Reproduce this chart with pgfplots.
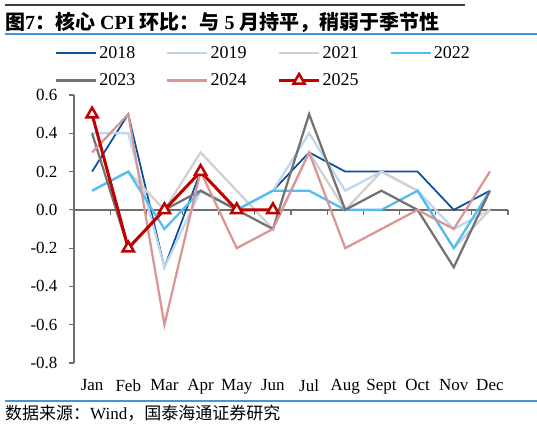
\documentclass[border=0pt]{standalone}
\usepackage{fontspec}
\setmainfont{Liberation Serif}
\newfontfamily\cjk{Noto Sans CJK SC}
\usepackage{pgfplots}
\pgfplotsset{compat=1.18}

\definecolor{c2018}{RGB}{10,80,160}
\definecolor{c2019}{RGB}{189,215,238}
\definecolor{c2021}{RGB}{208,208,208}
\definecolor{c2022}{RGB}{80,190,240}
\definecolor{c2023}{RGB}{118,113,113}
\definecolor{c2024}{RGB}{218,150,148}
\definecolor{c2025}{RGB}{192,0,0}
\definecolor{rule}{RGB}{68,150,214}
\definecolor{toprule}{RGB}{64,64,64}
\definecolor{axisgray}{RGB}{110,110,110}

\begin{document}
\begin{tikzpicture}[x=1bp,y=1bp]
\useasboundingbox (0,0) rectangle (537,428);
% header and footer
\draw[line width=2bp, toprule] (5,423) -- (465,423);
\node[anchor=west, inner sep=0pt, font=\fontsize{20bp}{22bp}\selectfont] at (5,406)
  {{\cjk\bfseries 图}\textbf{7}{\cjk\bfseries ：核心}\ \textbf{CPI}\ {\cjk\bfseries 环比：与}\ \textbf{5}\ {\cjk\bfseries 月持平，稍弱于季节性}};
\draw[line width=1.5bp, rule] (5,394) -- (537,394);
\draw[line width=1.5bp, rule] (5,27) -- (537,27);
\node[anchor=west, inner sep=0pt, font=\fontsize{17bp}{19bp}\selectfont] at (5,15)
  {{\cjk 数据来源：}Wind{\cjk ，国泰海通证券研究}};

\begin{axis}[
  at={(74bp,65bp)}, anchor=south west,
  scale only axis, width=434bp, height=268bp,
  xmin=0.5, xmax=12.5, ymin=-0.8, ymax=0.6,
  axis y line*=left, axis x line*=bottom,
  x axis line style={draw=none},
  y axis line style={line width=1.5bp, axisgray},
  xtick={1,...,12},
  xticklabels={Jan,Feb,Mar,Apr,May,Jun,Jul,Aug,Sept,Oct,Nov,Dec},
  xtick style={draw=none},
  ytick={-0.8,-0.6,...,0.6},
  ytick style={line width=1.2bp, axisgray},
  tick align=outside, major tick length=5bp,
  /pgf/number format/fixed, /pgf/number format/fixed zerofill,
  /pgf/number format/precision=1, /pgf/number format/assume math mode=true,
  ticklabel style={font=\fontsize{17bp}{19bp}\selectfont},
  xticklabel style={yshift=-8bp},
  yticklabel style={xshift=-8bp},
  legend columns=4,
  legend style={at={(-0.044,1.19)}, anchor=north west, draw=none, fill=none,
    inner sep=0pt, font=\fontsize{18bp}{20bp}\selectfont,
    /tikz/every even column/.append style={column sep=29bp},
    row sep=10bp},
  legend cell align=left,
  legend image code/.code={\draw[mark repeat=2,mark phase=2,#1] plot coordinates {(0bp,0bp) (20bp,0bp) (40bp,0bp)};},
  clip=false,
]
\draw[line width=1.5bp, axisgray] (axis cs:0.5,0) -- (axis cs:12.5,0);
\pgfplotsinvokeforeach{0.5,1.5,2.5,3.5,4.5,5.5,6.5,7.5,8.5,9.5,10.5,11.5,12.5}{
  \draw[line width=1.2bp, axisgray] (axis cs:#1,0) -- ++(0bp,-5bp);
}
\addplot[c2018, line width=1.75bp] coordinates {(1,0.2)(2,0.5)(3,-0.3)(4,0.2)(5,0.0)(6,0.1)(7,0.3)(8,0.2)(9,0.2)(10,0.2)(11,0.0)(12,0.1)};
\addlegendentry{2018}
\addplot[c2019, line width=2.25bp] coordinates {(1,0.4)(2,0.4)(3,-0.3)(4,0.1)(5,0.0)(6,0.1)(7,0.4)(8,0.1)(9,0.2)(10,0.1)(11,-0.1)(12,0.0)};
\addlegendentry{2019}
\addplot[c2021, line width=2.25bp] coordinates {(1,0.1)(2,0.2)(3,0.0)(4,0.3)(5,0.1)(6,-0.1)(7,0.3)(8,0.0)(9,0.2)(10,0.1)(11,-0.2)(12,0.0)};
\addlegendentry{2021}
\addplot[c2022, line width=2.25bp] coordinates {(1,0.1)(2,0.2)(3,-0.1)(4,0.1)(5,0.0)(6,0.1)(7,0.1)(8,0.0)(9,0.0)(10,0.1)(11,-0.2)(12,0.1)};
\addlegendentry{2022}
\addplot[c2023, line width=2.25bp] coordinates {(1,0.4)(2,-0.2)(3,0.0)(4,0.1)(5,0.0)(6,-0.1)(7,0.5)(8,0.0)(9,0.1)(10,0.0)(11,-0.3)(12,0.1)};
\addlegendentry{2023}
\addplot[c2024, line width=2.25bp] coordinates {(1,0.3)(2,0.5)(3,-0.6)(4,0.2)(5,-0.2)(6,-0.1)(7,0.3)(8,-0.2)(9,-0.1)(10,0.0)(11,-0.1)(12,0.2)};
\addlegendentry{2024}
\addplot[c2025, line width=3bp, mark=triangle*, mark size=6.5bp,
  mark options={fill=white, line width=2.5bp, draw=c2025}] coordinates {(1,0.5)(2,-0.2)(3,0.0)(4,0.2)(5,0.0)(6,0.0)};
\addlegendentry{2025}
\end{axis}
\end{tikzpicture}
\end{document}
